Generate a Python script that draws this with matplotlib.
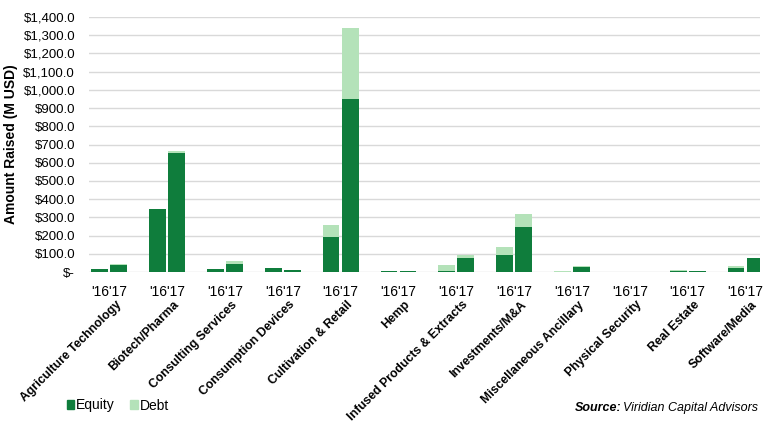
import matplotlib
matplotlib.use("Agg")
import matplotlib.pyplot as plt
import numpy as np
from matplotlib.transforms import blended_transform_factory
from matplotlib.patches import Patch

plt.rcParams['font.family'] = ['Liberation Sans', 'DejaVu Sans']

categories = ["Agriculture Technology", "Biotech/Pharma", "Consulting Services",
              "Consumption Devices", "Cultivation & Retail", "Hemp",
              "Infused Products & Extracts", "Investments/M&A",
              "Miscellaneous Ancillary", "Physical Security", "Real Estate",
              "Software/Media"]
equity_16 = [15, 345, 15, 24, 194, 3, 8, 95, 2, 1, 3, 20]
debt_16   = [0, 0, 0, 0, 66, 0, 29, 42, 4, 1, 7, 11]
equity_17 = [38, 655, 42, 13, 950, 3, 75, 245, 26, 1, 3, 75]
debt_17   = [4, 10, 18, 0, 390, 0, 20, 73, 7, 1, 3, 3]
year_label = "'16'17"
yticks = list(range(0, 1401, 100))

eq_color = "#0f7d3c"
debt_color = "#b4e2b9"

fig = plt.figure(figsize=(7.68, 4.25), dpi=100)
ax = fig.add_axes([89/768, 1-272/425, 671/768, 255/425])

x = np.arange(len(categories))
w = 0.29
off = 0.165
ax.bar(x - off, equity_16, w, color=eq_color, zorder=3)
ax.bar(x - off, debt_16, w, bottom=equity_16, color=debt_color, zorder=3)
ax.bar(x + off, equity_17, w, color=eq_color, zorder=3)
ax.bar(x + off, debt_17, w, bottom=np.array(equity_17), color=debt_color, zorder=3)

ax.set_ylim(0, 1400)
ax.set_xlim(-0.35, 11.25)
ax.set_yticks(yticks)
ax.set_yticklabels(["$-" if v == 0 else "${:,.1f}".format(v) for v in yticks], fontsize=9.5)
ax.yaxis.grid(True, color="#d9d9d9", linewidth=1, zorder=0)
ax.set_axisbelow(True)
for s in ax.spines.values():
    s.set_visible(False)
ax.tick_params(axis='y', length=0, pad=10)
ax.tick_params(axis='x', length=0, pad=9)
ax.set_xticks(x)
ax.set_xticklabels([year_label] * len(categories), fontsize=10)
ax.set_ylabel("Amount Raised (M USD)", fontsize=10, fontweight='bold', labelpad=4)

trans = blended_transform_factory(ax.transData, ax.transAxes)
for xi, c in zip(x, categories):
    ax.text(xi + 0.1, -0.105, c, transform=trans, rotation=45, ha='right', va='top',
            fontsize=8.8, fontweight='bold', rotation_mode='anchor')

handles = [Patch(color=eq_color, label="Equity"), Patch(color=debt_color, label="Debt")]
fig.legend(handles=handles, loc='lower left', bbox_to_anchor=(54/768, 0/425), ncol=2,
           frameon=False, fontsize=10, handlelength=0.55, handleheight=0.55,
           handletextpad=0.15, columnspacing=1.1)

fig.text(0.987, 0.04, "Viridian Capital Advisors", ha='right', va='center',
         fontsize=9, style='italic')
fig.text(0.987 - 0.178, 0.04, "Source:", ha='right', va='center', fontsize=9,
         fontweight='bold', style='italic')

fig.savefig("out.png", dpi=100)
